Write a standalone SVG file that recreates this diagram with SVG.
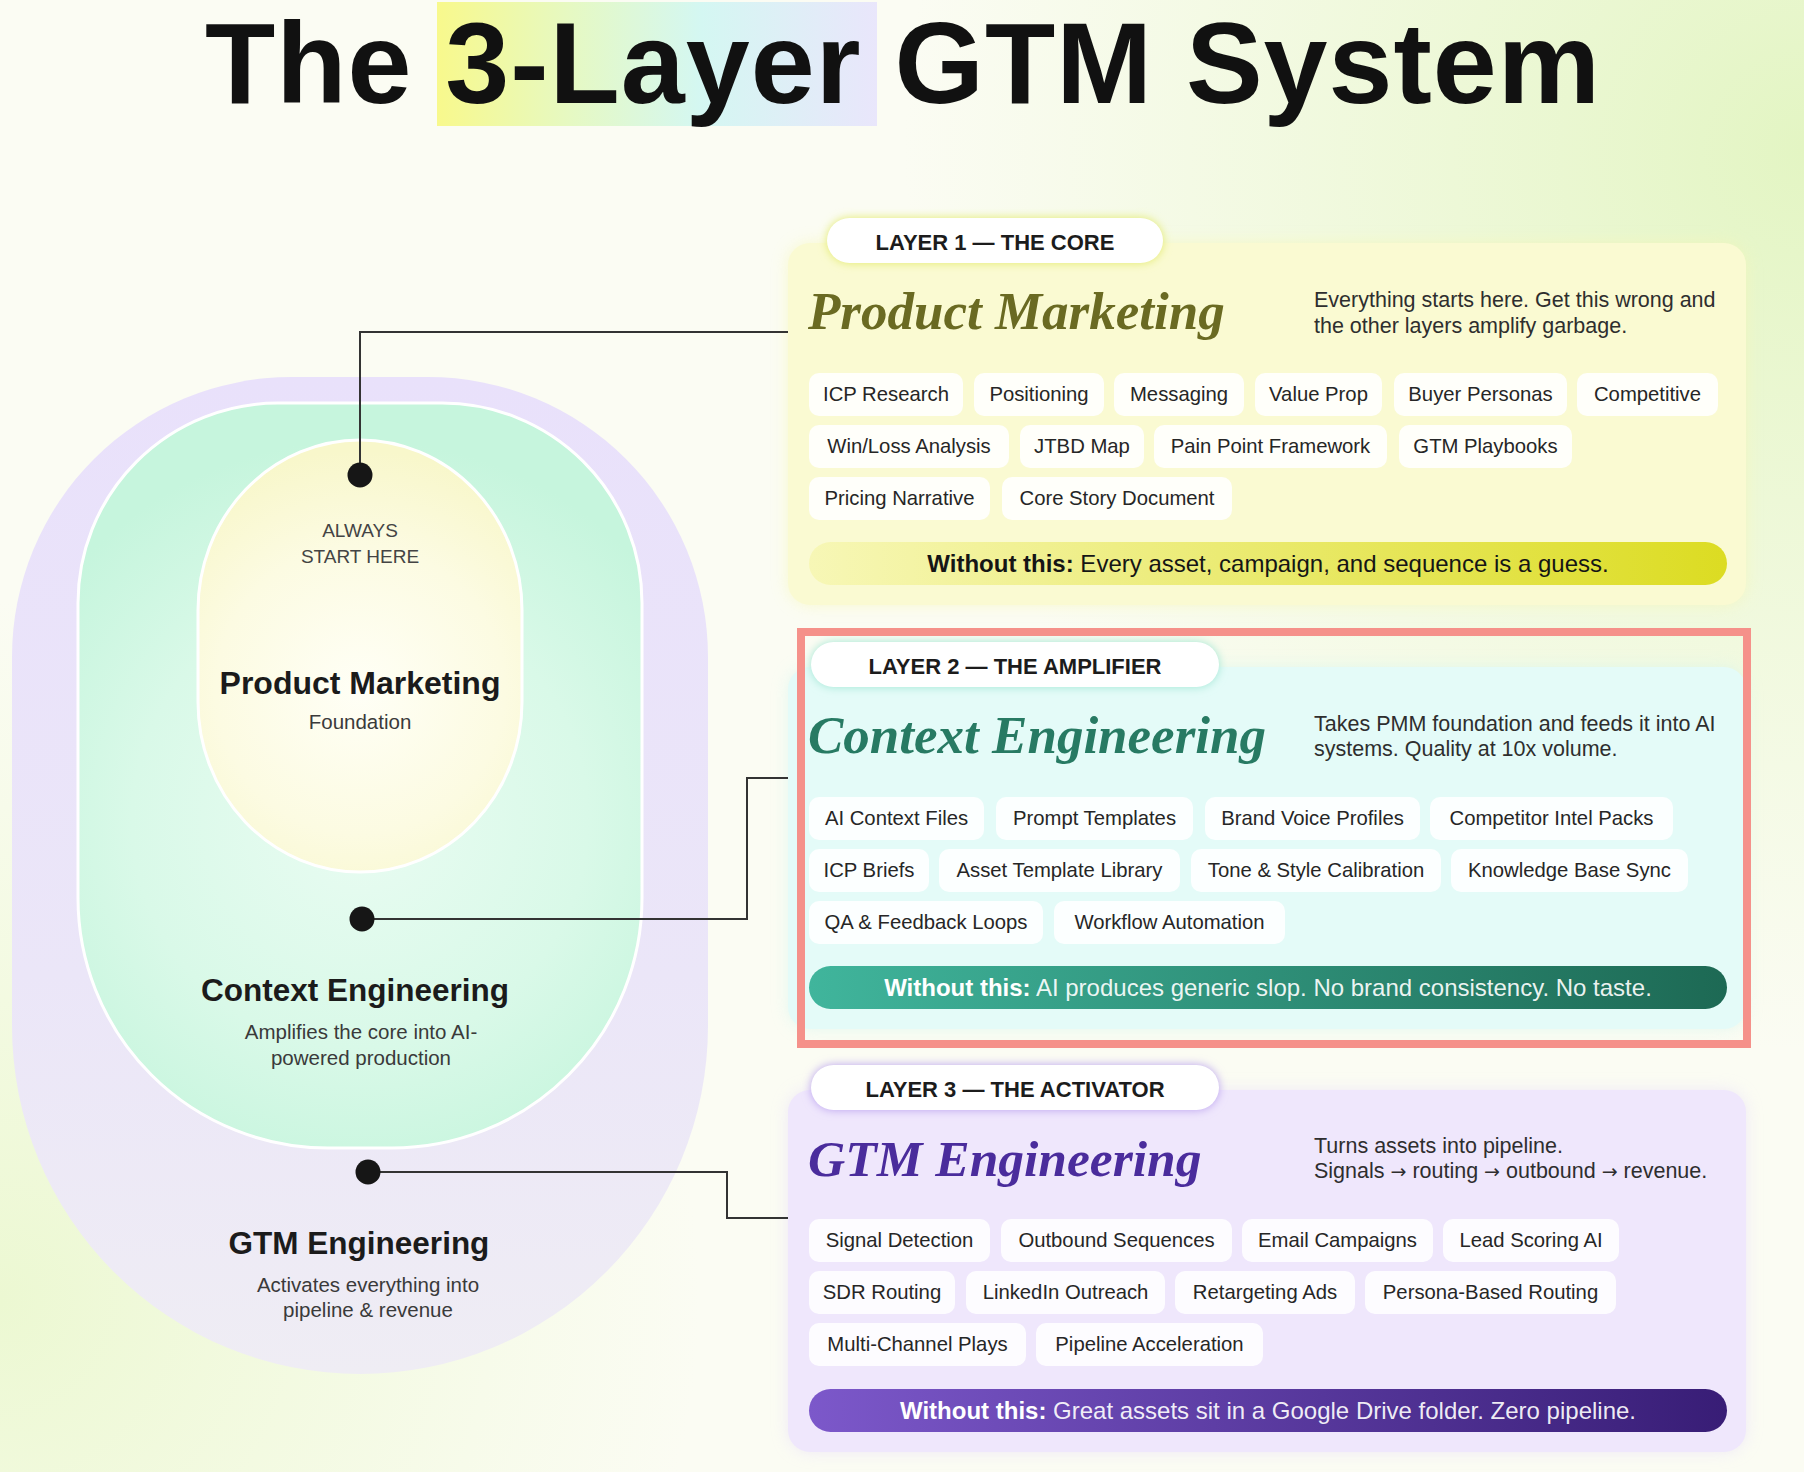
<svg xmlns="http://www.w3.org/2000/svg" width="1804" height="1472" viewBox="0 0 1804 1472">
<defs>
<radialGradient id="bgTR" cx="1804" cy="150" r="900" gradientUnits="userSpaceOnUse"><stop offset="0" stop-color="#e3f5c3"/><stop offset="1" stop-color="#e6f6c8" stop-opacity="0"/></radialGradient>
<radialGradient id="bgBL" cx="0" cy="1300" r="700" gradientUnits="userSpaceOnUse"><stop offset="0" stop-color="#ecf8d2"/><stop offset="1" stop-color="#eef9d6" stop-opacity="0"/></radialGradient>
<linearGradient id="hl" x1="0" y1="0" x2="1" y2="0"><stop offset="0" stop-color="#f8f98c"/><stop offset="0.3" stop-color="#e6f9c2"/><stop offset="0.6" stop-color="#d4f7f2"/><stop offset="1" stop-color="#e9e6fb"/></linearGradient>
<linearGradient id="outerG" x1="0" y1="0" x2="0" y2="1"><stop offset="0" stop-color="#e9e1fb"/><stop offset="0.6" stop-color="#ebe6f8"/><stop offset="1" stop-color="#efedf4"/></linearGradient>
<radialGradient id="greenG" cx="360" cy="820" r="380" gradientUnits="userSpaceOnUse"><stop offset="0" stop-color="#e9fcf2"/><stop offset="0.6" stop-color="#d9f9e8"/><stop offset="1" stop-color="#c6f5dd"/></radialGradient>
<radialGradient id="yelG" cx="360" cy="690" r="240" gradientUnits="userSpaceOnUse"><stop offset="0" stop-color="#fffff6"/><stop offset="0.6" stop-color="#fcfbe2"/><stop offset="1" stop-color="#f8f7cb"/></radialGradient>
<linearGradient id="bar1" x1="0" y1="0" x2="1" y2="0"><stop offset="0" stop-color="#f7f7b6"/><stop offset="1" stop-color="#dcdc22"/></linearGradient>
<linearGradient id="bar2" x1="0" y1="0" x2="1" y2="0"><stop offset="0" stop-color="#40b59c"/><stop offset="1" stop-color="#1d6954"/></linearGradient>
<linearGradient id="bar3" x1="0" y1="0" x2="1" y2="0"><stop offset="0" stop-color="#7c58ca"/><stop offset="1" stop-color="#381d76"/></linearGradient>
<filter id="blur8" x="-20%" y="-20%" width="140%" height="140%"><feGaussianBlur stdDeviation="8"/></filter>
<filter id="blur5" x="-30%" y="-60%" width="160%" height="220%"><feGaussianBlur stdDeviation="5"/></filter>
</defs>
<style>
.title{font-family:"Liberation Sans",Arial,sans-serif;font-weight:700;font-size:115px;fill:#111;letter-spacing:1px}
.pill{fill:#ffffff}
.pilltxt{font-family:"Liberation Sans",Arial,sans-serif;font-weight:700;font-size:22px;fill:#1c1c1c;text-anchor:middle}
.serif{font-family:"Liberation Serif","Times New Roman",serif;font-style:italic;font-weight:700;font-size:53px}
.desc{font-family:"Liberation Sans",Arial,sans-serif;font-size:21.5px;fill:#2e2e2e}
.arr{font-family:"DejaVu Sans",sans-serif;font-size:19px}
.chip{fill:#ffffff;fill-opacity:0.88}
.chiptxt{font-family:"Liberation Sans",Arial,sans-serif;font-size:20.3px;fill:#262626;text-anchor:middle}
.bartxt{font-family:"Liberation Sans",Arial,sans-serif;font-size:24px;text-anchor:middle}
.b{font-weight:700}
.conn{fill:none;stroke:#333;stroke-width:2}
.dot{fill:#161616}
.lbl{font-family:"Liberation Sans",Arial,sans-serif;font-weight:700;font-size:31.5px;fill:#1b1b1b;text-anchor:middle}
.sub{font-family:"Liberation Sans",Arial,sans-serif;font-size:20.5px;fill:#3a3a3a;text-anchor:middle}
</style>

<!-- background -->
<rect width="1804" height="1472" fill="#fbfcf3"/>
<rect width="1804" height="1472" fill="url(#bgTR)"/>
<rect width="1804" height="1472" fill="url(#bgBL)"/>

<!-- title -->
<g id="title">
<rect x="437" y="2" width="440" height="124" fill="url(#hl)"/>
<text class="title" x="903" y="103" text-anchor="middle">The 3-Layer GTM System</text>
</g>

<!-- left concentric diagram -->
<g id="rings">
<path id="ring-outer" d="M12,657 A280,280 0 0 1 292,377 H428 A280,280 0 0 1 708,657 V1026 A348,348 0 0 1 12,1026 Z" fill="url(#outerG)"/>
<path id="ring-mid" d="M78,603 A200,200 0 0 1 278,403 H442 A200,200 0 0 1 642,603 V898 A250,250 0 0 1 392,1148 H328 A250,250 0 0 1 78,898 Z" fill="url(#greenG)" stroke="#ffffff" stroke-width="3"/>
<path id="ring-inner" d="M198,610 A162,170 0 0 1 522,610 V702 A162,170 0 0 1 198,702 Z" fill="url(#yelG)" stroke="#ffffff" stroke-width="3"/>
</g>

<g id="ring-label-1">
<text class="sub" x="360" y="537" style="font-size:19px;fill:#444">ALWAYS</text>
<text class="sub" x="360" y="563" style="font-size:19px;fill:#444">START HERE</text>
<text class="lbl" x="360" y="694" style="font-size:32px">Product Marketing</text>
<text class="sub" x="360" y="729">Foundation</text>
</g>
<g id="ring-label-2">
<text class="lbl" x="355" y="1001">Context Engineering</text>
<text class="sub" x="361" y="1039">Amplifies the core into AI-</text>
<text class="sub" x="361" y="1065">powered production</text>
</g>
<g id="ring-label-3">
<text class="lbl" x="359" y="1254">GTM Engineering</text>
<text class="sub" x="368" y="1292">Activates everything into</text>
<text class="sub" x="368" y="1317">pipeline &amp; revenue</text>
</g>

<!-- Layer 1 card -->
<g id="layer1">
<rect x="788" y="243" width="958" height="362" rx="22" fill="#f6f6b4" opacity="0.6" filter="url(#blur8)"/>
<rect x="788" y="243" width="958" height="362" rx="22" fill="#fafad2"/>
<rect x="827" y="218" width="336" height="45" rx="22.5" fill="#e2ea6a" filter="url(#blur5)"/>
<rect class="pill" x="827" y="218" width="336" height="45" rx="22.5"/>
<text class="pilltxt" x="995" y="250">LAYER 1 — THE CORE</text>
<text class="serif" x="808" y="329" fill="#6a6a22">Product Marketing</text>
<text class="desc" x="1314" y="307">Everything starts here. Get this wrong and</text>
<text class="desc" x="1314" y="333">the other layers amplify garbage.</text>
<g>
<rect class="chip" x="809" y="373" width="154" height="43" rx="10"/><text class="chiptxt" x="886" y="401">ICP Research</text>
<rect class="chip" x="974" y="373" width="130" height="43" rx="10"/><text class="chiptxt" x="1039" y="401">Positioning</text>
<rect class="chip" x="1114" y="373" width="130" height="43" rx="10"/><text class="chiptxt" x="1179" y="401">Messaging</text>
<rect class="chip" x="1255" y="373" width="127" height="43" rx="10"/><text class="chiptxt" x="1318.5" y="401">Value Prop</text>
<rect class="chip" x="1394" y="373" width="173" height="43" rx="10"/><text class="chiptxt" x="1480.5" y="401">Buyer Personas</text>
<rect class="chip" x="1577" y="373" width="141" height="43" rx="10"/><text class="chiptxt" x="1647.5" y="401">Competitive</text>
<rect class="chip" x="809" y="425" width="200" height="43" rx="10"/><text class="chiptxt" x="909" y="453">Win/Loss Analysis</text>
<rect class="chip" x="1020" y="425" width="124" height="43" rx="10"/><text class="chiptxt" x="1082" y="453">JTBD Map</text>
<rect class="chip" x="1154" y="425" width="233" height="43" rx="10"/><text class="chiptxt" x="1270.5" y="453">Pain Point Framework</text>
<rect class="chip" x="1399" y="425" width="173" height="43" rx="10"/><text class="chiptxt" x="1485.5" y="453">GTM Playbooks</text>
<rect class="chip" x="809" y="477" width="181" height="43" rx="10"/><text class="chiptxt" x="899.5" y="505">Pricing Narrative</text>
<rect class="chip" x="1002" y="477" width="230" height="43" rx="10"/><text class="chiptxt" x="1117" y="505">Core Story Document</text>
</g>
<rect x="809" y="542" width="918" height="43" rx="21.5" fill="url(#bar1)"/>
<text class="bartxt" x="1268" y="572" fill="#151515"><tspan class="b">Without this:</tspan>  Every asset, campaign, and sequence is a guess.</text>
</g>

<!-- Layer 2 card -->
<g id="layer2">
<rect x="788" y="667" width="958" height="362" rx="22" fill="#cdf5ee" opacity="0.5" filter="url(#blur8)"/>
<rect x="788" y="667" width="958" height="362" rx="22" fill="#e4fbf8"/>
<rect x="811" y="642" width="408" height="45" rx="22.5" fill="#9fe6d3" filter="url(#blur5)"/>
<rect class="pill" x="811" y="642" width="408" height="45" rx="22.5"/>
<text class="pilltxt" x="1015" y="674">LAYER 2 — THE AMPLIFIER</text>
<text class="serif" x="808" y="753" fill="#277a63">Context Engineering</text>
<text class="desc" x="1314" y="731">Takes PMM foundation and feeds it into AI</text>
<text class="desc" x="1314" y="756">systems. Quality at 10x volume.</text>
<g>
<rect class="chip" x="809" y="797" width="175" height="43" rx="10"/><text class="chiptxt" x="896.5" y="825">AI Context Files</text>
<rect class="chip" x="996" y="797" width="197" height="43" rx="10"/><text class="chiptxt" x="1094.5" y="825">Prompt Templates</text>
<rect class="chip" x="1205" y="797" width="215" height="43" rx="10"/><text class="chiptxt" x="1312.5" y="825">Brand Voice Profiles</text>
<rect class="chip" x="1430" y="797" width="243" height="43" rx="10"/><text class="chiptxt" x="1551.5" y="825">Competitor Intel Packs</text>
<rect class="chip" x="809" y="849" width="120" height="43" rx="10"/><text class="chiptxt" x="869" y="877">ICP Briefs</text>
<rect class="chip" x="939" y="849" width="241" height="43" rx="10"/><text class="chiptxt" x="1059.5" y="877">Asset Template Library</text>
<rect class="chip" x="1191" y="849" width="250" height="43" rx="10"/><text class="chiptxt" x="1316" y="877">Tone &amp; Style Calibration</text>
<rect class="chip" x="1451" y="849" width="237" height="43" rx="10"/><text class="chiptxt" x="1569.5" y="877">Knowledge Base Sync</text>
<rect class="chip" x="809" y="901" width="234" height="43" rx="10"/><text class="chiptxt" x="926" y="929">QA &amp; Feedback Loops</text>
<rect class="chip" x="1054" y="901" width="231" height="43" rx="10"/><text class="chiptxt" x="1169.5" y="929">Workflow Automation</text>
</g>
<rect x="809" y="966" width="918" height="43" rx="21.5" fill="url(#bar2)"/>
<text class="bartxt" x="1268" y="996" fill="#ffffff"><tspan class="b">Without this:</tspan>  <tspan fill-opacity="0.92">AI produces generic slop. No brand consistency. No taste.</tspan></text>
</g>

<!-- Layer 3 card -->
<g id="layer3">
<rect x="788" y="1090" width="958" height="362" rx="22" fill="#e2d6fa" opacity="0.5" filter="url(#blur8)"/>
<rect x="788" y="1090" width="958" height="362" rx="22" fill="#efe7fc"/>
<rect x="811" y="1065" width="408" height="45" rx="22.5" fill="#b9a0ef" filter="url(#blur5)"/>
<rect class="pill" x="811" y="1065" width="408" height="45" rx="22.5"/>
<text class="pilltxt" x="1015" y="1097">LAYER 3 — THE ACTIVATOR</text>
<text class="serif" x="808" y="1176" fill="#4a2c9c" style="font-size:51.5px">GTM Engineering</text>
<text class="desc" x="1314" y="1153">Turns assets into pipeline.</text>
<text class="desc" x="1314" y="1178">Signals <tspan class="arr">→</tspan> routing <tspan class="arr">→</tspan> outbound <tspan class="arr">→</tspan> revenue.</text>
<g>
<rect class="chip" x="809" y="1219" width="181" height="43" rx="10"/><text class="chiptxt" x="899.5" y="1247">Signal Detection</text>
<rect class="chip" x="1001" y="1219" width="231" height="43" rx="10"/><text class="chiptxt" x="1116.5" y="1247">Outbound Sequences</text>
<rect class="chip" x="1242" y="1219" width="191" height="43" rx="10"/><text class="chiptxt" x="1337.5" y="1247">Email Campaigns</text>
<rect class="chip" x="1443" y="1219" width="176" height="43" rx="10"/><text class="chiptxt" x="1531" y="1247">Lead Scoring AI</text>
<rect class="chip" x="809" y="1271" width="146" height="43" rx="10"/><text class="chiptxt" x="882" y="1299">SDR Routing</text>
<rect class="chip" x="966" y="1271" width="199" height="43" rx="10"/><text class="chiptxt" x="1065.5" y="1299">LinkedIn Outreach</text>
<rect class="chip" x="1175" y="1271" width="180" height="43" rx="10"/><text class="chiptxt" x="1265" y="1299">Retargeting Ads</text>
<rect class="chip" x="1365" y="1271" width="251" height="43" rx="10"/><text class="chiptxt" x="1490.5" y="1299">Persona-Based Routing</text>
<rect class="chip" x="809" y="1323" width="217" height="43" rx="10"/><text class="chiptxt" x="917.5" y="1351">Multi-Channel Plays</text>
<rect class="chip" x="1036" y="1323" width="227" height="43" rx="10"/><text class="chiptxt" x="1149.5" y="1351">Pipeline Acceleration</text>
</g>
<rect x="809" y="1389" width="918" height="43" rx="21.5" fill="url(#bar3)"/>
<text class="bartxt" x="1268" y="1419" fill="#ffffff"><tspan class="b">Without this:</tspan>  <tspan fill-opacity="0.92">Great assets sit in a Google Drive folder. Zero pipeline.</tspan></text>
</g>

<!-- highlight frame -->
<rect id="highlight-frame" x="801" y="632" width="946" height="412" fill="none" stroke="#f5918a" stroke-width="8"/>

<!-- connectors -->
<g id="connectors">
<path class="conn" d="M360,475 V332 H788"/>
<path class="conn" d="M362,919 H747 V778 H788"/>
<path class="conn" d="M368,1172 H727 V1218 H788"/>
<circle class="dot" cx="360" cy="475" r="12.5"/>
<circle class="dot" cx="362" cy="919" r="12.5"/>
<circle class="dot" cx="368" cy="1172" r="12.5"/>
</g>
</svg>
